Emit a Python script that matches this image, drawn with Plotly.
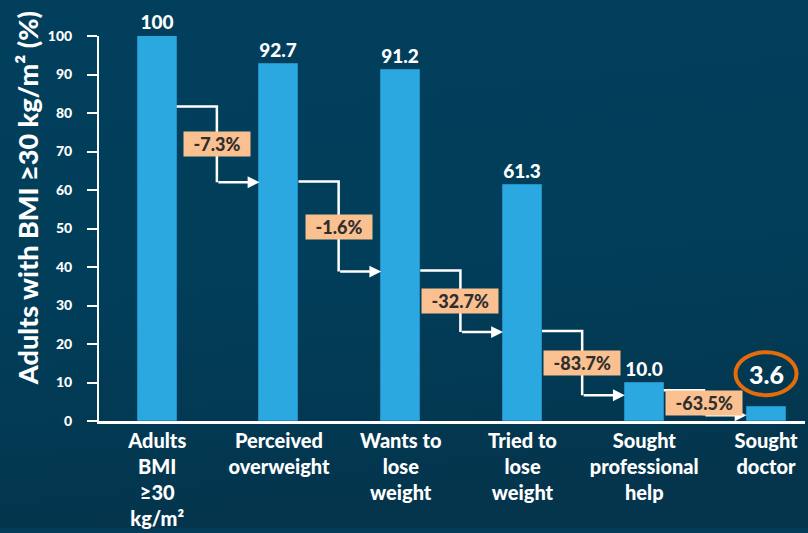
import base64
import plotly.graph_objects as go

# ---- data -------------------------------------------------------------
stages = [
    "Adults<br>BMI<br>≥30<br>kg/m²",
    "Perceived<br>overweight",
    "Wants to<br>lose<br>weight",
    "Tried to<br>lose<br>weight",
    "Sought<br>professional<br>help",
    "Sought<br>doctor",
]
values = [100, 92.7, 91.2, 61.3, 10.0, 3.6]
value_labels = ["100", "92.7", "91.2", "61.3", "10.0", "3.6"]
step_changes = ["-7.3%", "-1.6%", "-32.7%", "-83.7%", "-63.5%"]
y_ticks = list(range(0, 101, 10))

# ---- styling ----------------------------------------------------------
FONT = "Lato"
WEIGHT = 900
WHITE = "#ffffff"
BAR = "#2ba8e0"
PEACH = "#fac090"
ORANGE = "#e46c0a"
BAR_HALF = 0.16          # half of the bar width in category units
ELBOW = 0.49             # x offset of the vertical part of each connector
# (start level, end level) of each elbow connector, in axis units
connector_levels = [(81.7, 62.0), (62.2, 38.8), (39.1, 23.1), (23.4, 6.7), (8.0, 1.5)]

x = list(range(len(values)))

fig = go.Figure()
fig.add_trace(go.Bar(
    x=x,
    y=values,
    width=2 * BAR_HALF,
    marker=dict(color=BAR, line=dict(color="#1f8fc6", width=1)),
    text=value_labels[:-1] + [""],
    textposition="outside",
    textfont=dict(family=FONT, size=19, color=WHITE, weight=WEIGHT),
    cliponaxis=False,
    hoverinfo="skip",
))

shapes = []
annotations = []

# elbow connectors with arrowheads and percentage-change badges
for i, ((y_start, y_end), label) in enumerate(zip(connector_levels, step_changes)):
    xm = i + ELBOW
    shapes.append(dict(
        type="path",
        xref="x", yref="y",
        path=f"M {i + BAR_HALF},{y_start} L {xm},{y_start} L {xm},{y_end}",
        line=dict(color=WHITE, width=2.5),
        layer="above",
    ))
    annotations.append(dict(
        x=i + 1 - BAR_HALF, y=y_end, xref="x", yref="y",
        ax=xm, ay=y_end, axref="x", ayref="y",
        text="", showarrow=True,
        arrowhead=2, arrowsize=0.95, arrowwidth=2.5, arrowcolor=WHITE,
        standoff=0, startstandoff=0,
    ))
    annotations.append(dict(
        x=xm, y=(y_start + y_end) / 2, xref="x", yref="y",
        text="\u00a0\u00a0" + label + "\u00a0\u00a0",
        showarrow=False,
        font=dict(family=FONT, size=18, color="#2e2e2e", weight=WEIGHT),
        bgcolor=PEACH, borderpad=1,
        xanchor="center", yanchor="middle",
    ))

# highlighted final value
annotations.append(dict(
    x=x[-1], y=values[-1], xref="x", yref="y",
    text=value_labels[-1], showarrow=False,
    font=dict(family=FONT, size=25, color=WHITE, weight=WEIGHT),
    xanchor="center", yanchor="middle", yshift=33,
))
shapes.append(dict(
    type="circle",
    xref="x", yref="y",
    xsizemode="pixel", ysizemode="pixel",
    xanchor=x[-1], yanchor=values[-1],
    x0=-30.5, x1=30.5, y0=12, y1=55,
    line=dict(color=ORANGE, width=4),
    layer="above",
))

# y-axis title
annotations.append(dict(
    x=-0.101, y=0.578, xref="paper", yref="paper",
    text="Adults with BMI ≥30 kg/m² (%)",
    textangle=-90, showarrow=False,
    font=dict(family=FONT, size=27, color=WHITE, weight=WEIGHT),
    xanchor="center", yanchor="middle",
))

# soft navy gradient behind everything
svg = (
    "<svg xmlns='http://www.w3.org/2000/svg' width='808' height='533'>"
    "<defs><linearGradient id='g' x1='0' y1='0' x2='0.15' y2='1'>"
    "<stop offset='0' stop-color='#023f5c'/>"
    "<stop offset='0.55' stop-color='#013e5a'/>"
    "<stop offset='1' stop-color='#04354d'/>"
    "</linearGradient></defs>"
    "<rect width='808' height='533' fill='url(#g)'/></svg>"
)
bg_src = "data:image/svg+xml;base64," + base64.b64encode(svg.encode()).decode()

L, R, T, B = 99, 3, 36, 108
W, H = 808, 533
pw, ph = W - L - R, H - T - B

fig.update_layout(
    width=W, height=H,
    margin=dict(l=L, r=R, t=T, b=B, pad=0),
    paper_bgcolor="#023c58",
    plot_bgcolor="rgba(0,0,0,0)",
    showlegend=False,
    bargap=0,
    shapes=shapes,
    annotations=annotations,
    images=[dict(
        source=bg_src, xref="paper", yref="paper",
        x=-L / pw, y=1 + T / ph, sizex=W / pw, sizey=H / ph,
        xanchor="left", yanchor="top", sizing="stretch", layer="below",
    )],
    xaxis=dict(
        range=[-0.478, 5.32],
        tickvals=x, ticktext=stages,
        tickfont=dict(family=FONT, size=20, color=WHITE, weight=WEIGHT),
        showline=True, linecolor=WHITE, linewidth=3,
        showgrid=False, zeroline=False, ticks="",
        fixedrange=True,
    ),
    yaxis=dict(
        range=[0, 100],
        tickvals=y_ticks,
        tickfont=dict(family=FONT, size=14, color=WHITE, weight=WEIGHT),
        showline=True, linecolor=WHITE, linewidth=2,
        ticks="outside", ticklen=10, tickwidth=2, tickcolor=WHITE,
        ticklabelstandoff=12,
        showgrid=False, zeroline=False,
        fixedrange=True,
    ),
)

fig.write_html("out.html")
